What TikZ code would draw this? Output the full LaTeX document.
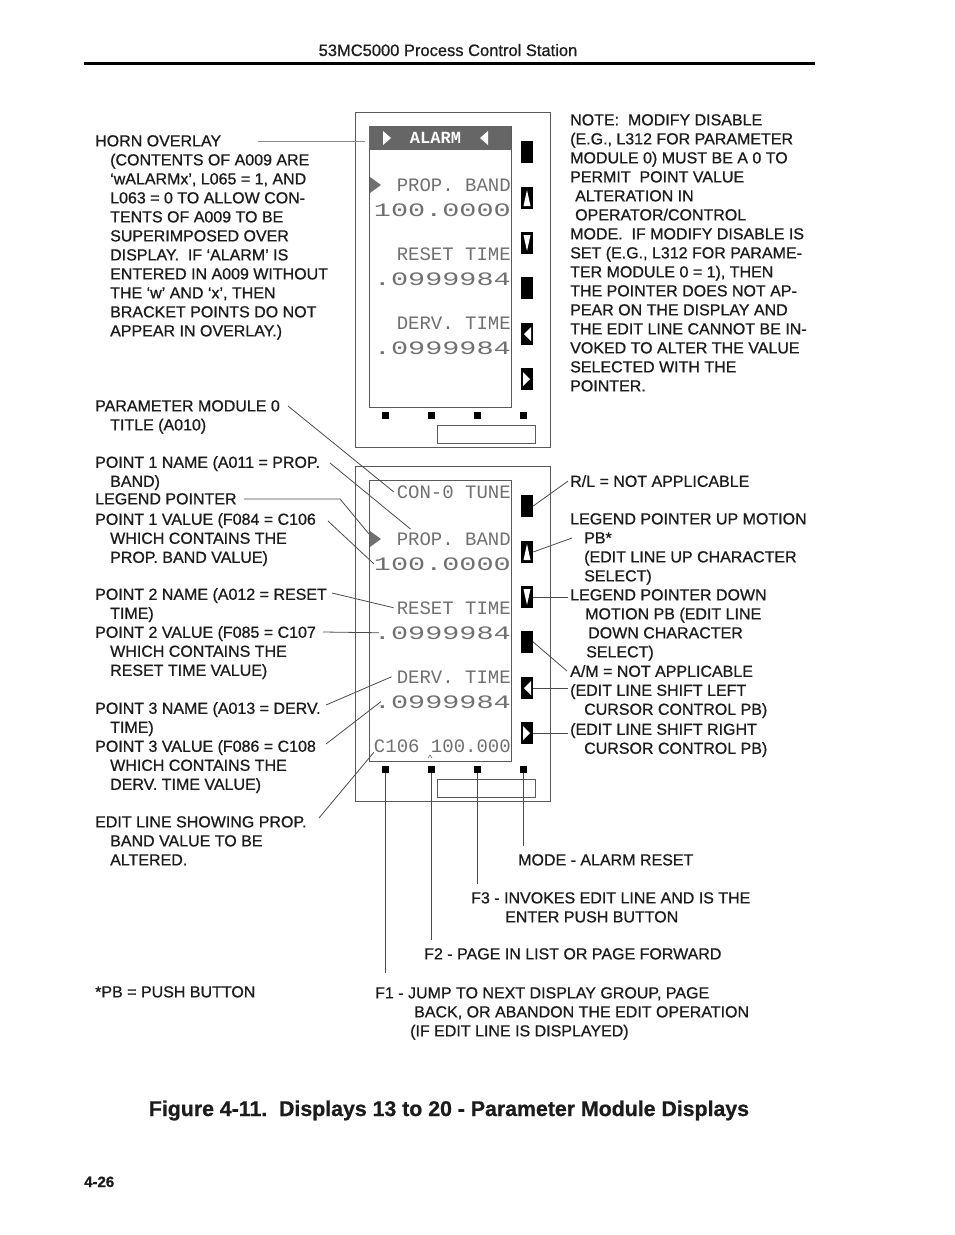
\documentclass[tikz,border=0pt]{standalone}
\usepackage{fontspec}
\setmainfont[FakeBold=0.8]{Liberation Sans}
\newfontfamily\lcdfont{Liberation Mono}
\usetikzlibrary{positioning,calc}
\definecolor{ink}{HTML}{1C1C1C}
\definecolor{lcdgray}{HTML}{707070}
\definecolor{leadgray}{HTML}{4A4A4A}
\definecolor{framegray}{HTML}{5A5A5A}
\newcommand{\lblind}[1]{\hspace*{#1pt}}

\begin{document}
\begin{tikzpicture}[x=1pt,y=-1pt,
  lbl/.style={anchor=north west,inner sep=0pt,align=left,text=ink,font=\fontsize{16}{19}\selectfont},
  lcd/.style={anchor=base east,inner sep=0pt,text=lcdgray,font=\lcdfont\fontsize{19}{19}\selectfont},
  pushbtn/.style={fill=black,minimum width=12pt,minimum height=22pt,inner sep=0pt},
  fkey/.style={fill=black,minimum size=7pt,inner sep=0pt},
  leader/.style={draw=leadgray,line width=0.8pt}]
 \useasboundingbox (0,0) rectangle (954,1235);
 % page header
 \node[anchor=base,inner sep=0pt,text=ink,font=\fontsize{16.5}{19}\selectfont] (hdr) at (448,56) {53MC5000 Process Control Station};
 \draw[line width=3pt] (84,63) -- (815,63);
 % the two faceplates
 \foreach \dy/\nm in {0/a,354/b}{
  \begin{scope}[shift={(0,\dy)}]
   \draw[framegray,line width=1pt] (355,112) rectangle (550,447);
   \draw[framegray,line width=1pt] (369,126) rectangle (511,407);
   \draw[framegray,line width=0.8pt] (437,425) rectangle (535,443);
   \node[pushbtn] (\nm-rl) at (527,152) {};
   \node[pushbtn] (\nm-up) at (527,198) {};
   \node[pushbtn] (\nm-dn) at (527,243) {};
   \node[pushbtn] (\nm-am) at (527,288) {};
   \node[pushbtn] (\nm-lt) at (527,334) {};
   \node[pushbtn] (\nm-rt) at (527,379) {};
   \fill[white] (523.5,206) -- (530.5,206) -- (527,190) -- cycle;
   \fill[white] (523.5,235) -- (530.5,235) -- (527,251) -- cycle;
   \fill[white] (531,327) -- (531,341) -- (524,334) -- cycle;
   \fill[white] (523,372) -- (523,386) -- (530,379) -- cycle;
   \foreach \k/\xk in {1/385.5,2/431,3/477,4/523.5}
     \node[fkey] (\nm-f\k) at (\xk,415) {};
   \fill[lcdgray] (370,177) -- (381,185) -- (370,193) -- cycle;
   \coordinate (\nm-ptr) at (369,180);
   \node[lcd] (\nm-name1) at (511,191) {PROP. BAND};
   \node[lcd] (\nm-val1) at (511,216) {\scalebox{1.5}[1]{100.0000}};
   \node[lcd] (\nm-name2) at (511,260) {RESET TIME};
   \node[lcd] (\nm-val2) at (511,285) {\scalebox{1.5}[1]{.0999984}};
   \node[lcd] (\nm-name3) at (511,329) {DERV. TIME};
   \node[lcd] (\nm-val3) at (511,354) {\scalebox{1.5}[1]{.0999984}};
  \end{scope}
 }
 % alarm overlay on the upper faceplate
 \node[fill=black!60,minimum width=142pt,minimum height=24pt,inner sep=0pt,anchor=north west] (a-band) at (369,126) {};
 \fill[white] (383,131) -- (391,138) -- (383,145) -- cycle;
 \fill[white] (488,131) -- (480,138) -- (488,145) -- cycle;
 \node[text=white,inner sep=0pt,font=\lcdfont\bfseries\fontsize{17}{17}\selectfont] (a-alarm) at (435.5,138) {ALARM};
 % title and edit line of the lower faceplate
 \node[lcd] (b-title) at (511,498) {CON-0 TUNE};
 \node[lcd] (b-edit) at (511,752) {C106 100.000};
 \draw[lcdgray,line width=0.6pt] (428,758) -- (430,755) -- (432,758);

 % left column
 \node[lbl] (horn) at (95,135) {HORN OVERLAY\\\lblind{15}(CONTENTS OF A009 ARE\\\lblind{15}`wALARMx', L065 = 1, AND\\\lblind{15}L063 = 0 TO ALLOW CON-\\\lblind{15}TENTS OF A009 TO BE\\\lblind{15}SUPERIMPOSED OVER\\\lblind{15}DISPLAY.\ \ IF `ALARM' IS\\\lblind{15}ENTERED IN A009 WITHOUT\\\lblind{15}THE `w' AND `x', THEN\\\lblind{15}BRACKET POINTS DO NOT\\\lblind{15}APPEAR IN OVERLAY.)};
 \node[lbl] (pmtitle) at (95,400) {PARAMETER MODULE 0\\\lblind{15}TITLE (A010)};
 \node[lbl] (pt1name) at (95,456) {POINT 1 NAME (A011 = PROP.\\\lblind{15}BAND)};
 \node[lbl] (legptr) at (95,493) {LEGEND POINTER};
 \node[lbl] (pt1val) at (95,513) {POINT 1 VALUE (F084 = C106\\\lblind{15}WHICH CONTAINS THE\\\lblind{15}PROP. BAND VALUE)};
 \node[lbl] (pt2name) at (95,588) {POINT 2 NAME (A012 = RESET\\\lblind{15}TIME)};
 \node[lbl] (pt2val) at (95,626) {POINT 2 VALUE (F085 = C107\\\lblind{15}WHICH CONTAINS THE\\\lblind{15}RESET TIME VALUE)};
 \node[lbl] (pt3name) at (95,702) {POINT 3 NAME (A013 = DERV.\\\lblind{15}TIME)};
 \node[lbl] (pt3val) at (95,740) {POINT 3 VALUE (F086 = C108\\\lblind{15}WHICH CONTAINS THE\\\lblind{15}DERV. TIME VALUE)};
 \node[lbl] (editln) at (95,816) {EDIT LINE SHOWING PROP.\\\lblind{15}BAND VALUE TO BE\\\lblind{15}ALTERED.};
 \node[lbl] (pbnote) at (95,986) {*PB = PUSH BUTTON};

 % right column
 \node[lbl] (note) at (570,114) {NOTE:\ \ MODIFY DISABLE\\(E.G., L312 FOR PARAMETER\\MODULE 0) MUST BE A 0 TO\\PERMIT\ \ POINT VALUE\\\lblind{5}ALTERATION IN\\\lblind{5}OPERATOR/CONTROL\\MODE.\ \ IF MODIFY DISABLE IS\\SET (E.G., L312 FOR PARAME-\\TER MODULE 0 = 1), THEN\\THE POINTER DOES NOT AP-\\PEAR ON THE DISPLAY AND\\THE EDIT LINE CANNOT BE IN-\\VOKED TO ALTER THE VALUE\\SELECTED WITH THE\\POINTER.};
 \node[lbl] (rl) at (570,475) {R/L = NOT APPLICABLE};
 \node[lbl] (ptrup) at (570,513) {LEGEND POINTER UP MOTION\\\lblind{14}PB*\\\lblind{14}(EDIT LINE UP CHARACTER\\\lblind{14}SELECT)};
 \node[lbl] (ptrdn) at (570,589) {LEGEND POINTER DOWN\\\lblind{15}MOTION PB (EDIT LINE\\\lblind{18}DOWN CHARACTER\\\lblind{16}SELECT)};
 \node[lbl] (am) at (570,665) {A/M = NOT APPLICABLE};
 \node[lbl] (shl) at (570,684) {(EDIT LINE SHIFT LEFT\\\lblind{14}CURSOR CONTROL PB)};
 \node[lbl] (shr) at (570,723) {(EDIT LINE SHIFT RIGHT\\\lblind{14}CURSOR CONTROL PB)};

 % function keys
 \node[lbl] (modeRst) at (518,854) {MODE - ALARM RESET};
 \node[lbl] (fthree) at (471,892) {F3 - INVOKES EDIT LINE AND IS THE\\\lblind{34}ENTER PUSH BUTTON};
 \node[lbl] (ftwo) at (424,948) {F2 - PAGE IN LIST OR PAGE FORWARD};
 \node[lbl] (fone) at (375,987) {F1 - JUMP TO NEXT DISPLAY GROUP, PAGE\\\lblind{39}BACK, OR ABANDON THE EDIT OPERATION\\\lblind{35}(IF EDIT LINE IS DISPLAYED)};

 % caption and page number
 \node[anchor=base,inner sep=0pt,text=ink,font=\bfseries\fontsize{21.3}{24}\selectfont] (caption) at (449,1116) {Figure 4-11.\ \ Displays 13 to 20 - Parameter Module Displays};
 \node[anchor=base west,inner sep=0pt,text=ink,font=\bfseries\fontsize{15}{18}\selectfont] (pgno) at (84,1187) {4-26};

 % leaders, left
 \coordinate (hornpt) at (258,141);
 \coordinate (pmpt) at (288,406);
 \coordinate (p1npt) at (330,463);
 \coordinate (lppt) at (244,499);
 \coordinate (p1vpt) at (328,521);
 \coordinate (p2npt) at (332,593);
 \coordinate (p2vpt) at (323,632);
 \coordinate (p3npt) at (326,705);
 \coordinate (p3vpt) at (326,744);
 \coordinate (edpt) at (319,818);
 \draw[leader,draw=black!45] (hornpt) -- ([xshift=-4pt]hornpt -| a-band.west);
 \draw[leader] (pmpt) -- ([xshift=-3pt]b-title.west);
 \draw[leader] (p1npt) -- ($(b-name1.north west)+(14,-3)$);
 \draw[leader] (lppt) -- ++(96,0) -- (b-ptr);
 \draw[leader] (p1vpt) -- (b-val1.west);
 \draw[leader] (p2npt) -- ([xshift=-3pt]b-name2.west);
 \draw[leader] (p2vpt) -- ([xshift=5pt]b-val2.west);
 \draw[leader] (p3npt) -- ([xshift=-5pt]b-name3.west);
 \draw[leader] (p3vpt) -- ([xshift=7pt]b-val3.west);
 \draw[leader] (edpt) -- (b-edit.south west);
 % leaders, right
 \coordinate (upend) at (572,538);
 \draw[leader] (b-rl.east) -- ([xshift=-2pt]rl.west);
 \draw[leader] (b-up.east) -- (upend);
 \draw[leader,shorten >=2pt] (b-dn.east) -- (b-dn.east -| ptrdn.west);
 \draw[leader] (b-am.east) -- ([xshift=-3pt]am.west);
 \draw[leader,shorten >=2pt] (b-lt.east) -- (b-lt.east -| shl.west);
 \draw[leader,shorten >=2pt] (b-rt.east) -- (b-rt.east -| shr.west);
 % leaders, function keys
 \draw[leader,shorten >=14pt] (b-f1.south) -- (b-f1.south |- fone.north);
 \draw[leader,shorten >=8pt] (b-f2.south) -- (b-f2.south |- ftwo.north);
 \draw[leader,shorten >=8pt] (b-f3.south) -- (b-f3.south |- fthree.north);
 \draw[leader,shorten >=8pt] (b-f4.south) -- (b-f4.south |- modeRst.north);
\end{tikzpicture}
\end{document}
